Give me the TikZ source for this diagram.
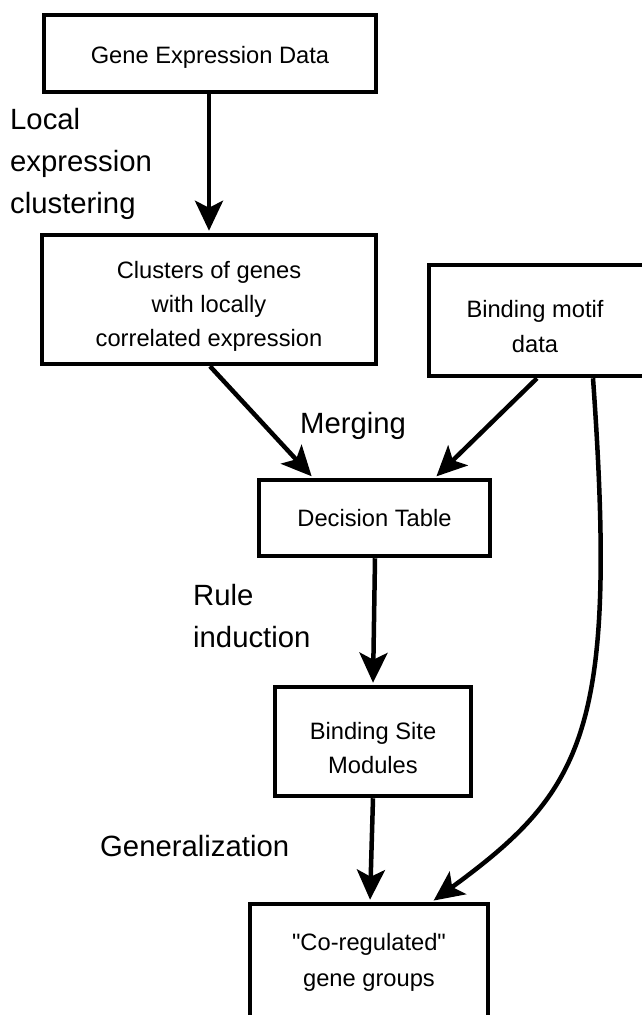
\documentclass[tikz,border=0pt]{standalone}
\usepackage{fontspec}
\setmainfont{Liberation Sans}[Ligatures=TeXOff]
\usetikzlibrary{arrows.meta}
\newcommand{\dropline}[1]{\rule{0pt}{#1}}
\begin{document}
\begin{tikzpicture}[x=1pt,y=-1pt,
  box/.style={draw, line width=4.5pt, rectangle, inner sep=0pt, align=center, font=\fontsize{23.7}{34}\selectfont},
  tdown/.style={execute at begin node={\rule{0pt}{#1}}},
  frame/.style={draw, line width=4.5pt, rectangle, inner sep=0pt},
  btext/.style={inner sep=0pt, align=center, font=\fontsize{23.7}{35}\selectfont},
  lab/.style={inner sep=0pt, align=left, font=\fontsize{29.3}{42}\selectfont},
  arr/.style={line width=4.5pt, -{Stealth[length=30pt,width=28pt,inset=7pt]}, shorten >=2pt}]
\useasboundingbox (0,0) rectangle (642,1015);
\clip (0,0) rectangle (642,1015);

\node[box, tdown=25pt, minimum width=332pt, minimum height=77pt] (gene) at (210,53.5) {Gene Expression Data};
\node[box, minimum width=334pt, minimum height=129pt] (clus) at (209,299.5) {\dropline{30pt}Clusters of genes\\with locally\\correlated expression};
\node[frame, minimum width=271pt, minimum height=111pt] (bm) at (564.5,320.5) {};
\node[btext] (bmt) at (535,327) {Binding motif\\data};
\node[box, minimum width=231pt, minimum height=76pt] (dt) at (374.5,518) {Decision Table};
\node[box, minimum width=196pt, minimum height=109pt] (bsm) at (373,741.5) {\dropline{30pt}Binding Site\\Modules};
\node[frame, minimum width=238pt, minimum height=196pt] (cg) at (369,1002) {};
\node[btext, font=\fontsize{23.7}{36}\selectfont] (cgt) at (369,962) {"Co-regulated"\\gene groups};

\node[lab, anchor=base west] (l1) at (10,213) {Local\\expression\\clustering};
\node[lab, anchor=base west] (l2) at (300,433) {Merging};
\node[lab, anchor=base west] (l3) at (193,647) {Rule\\induction};
\node[lab, anchor=base west] (l4) at (100,856) {Generalization};

\draw[arr] ([xshift=-1pt]gene.south) -- (clus.north);
\draw[arr] ([xshift=1pt]clus.south) -- ([xshift=-61.5pt]dt.north);
\draw[arr] ([xshift=-27.5pt]bm.south) -- ([xshift=60.5pt]dt.north);
\draw[arr] ([xshift=0.5pt]dt.south) -- (bsm.north);
\draw[arr] (bsm.south) -- ([xshift=1pt]cg.north);
\draw[arr] ([xshift=28.5pt]bm.south) .. controls (618,730) and (585,790) .. ([xshift=63pt]cg.north);
\end{tikzpicture}
\end{document}
